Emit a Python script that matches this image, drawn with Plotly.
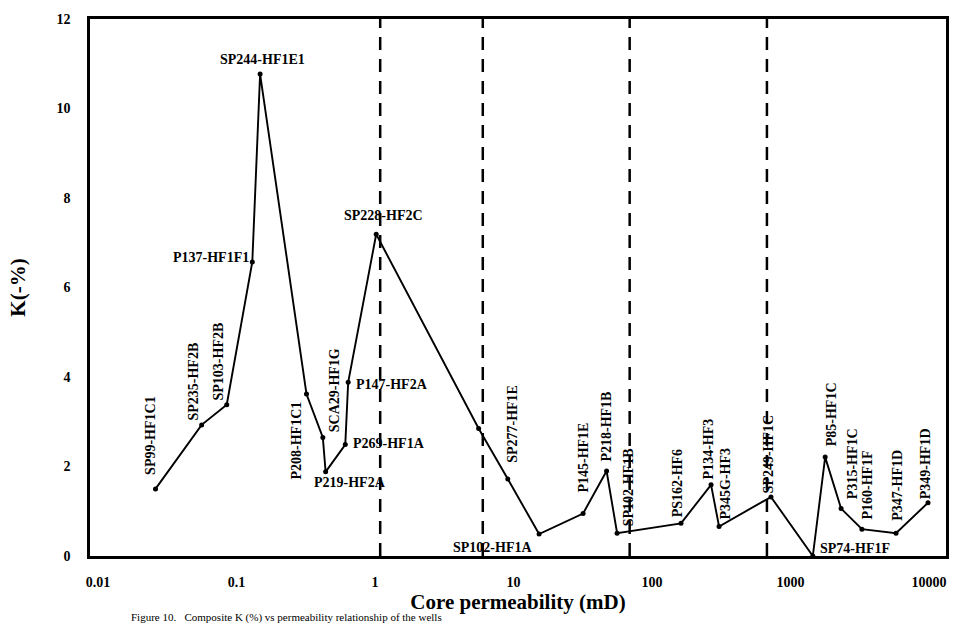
import numpy as np
import plotly.graph_objects as go

# ---- data ----
sample_names = [
    "SP99-HF1C1", "SP235-HF2B", "SP103-HF2B", "P137-HF1F1", "SP244-HF1E1",
    "P208-HF1C1", "SCA29-HF1G", "P219-HF2A", "P269-HF1A", "P147-HF2A",
    "SP228-HF2C", "", "SP277-HF1E", "SP102-HF1A", "P145-HF1E",
    "P218-HF1B", "SP102-HF1B", "PS162-HF6", "P134-HF3", "P345G-HF3",
    "SP249-HF1C", "SP74-HF1F", "P85-HF1C", "P315-HF1C", "P160-HF1F",
    "P347-HF1D", "P349-HF1D",
]
core_permeability_md = [
    0.026, 0.056, 0.085, 0.13, 0.148,
    0.32, 0.42, 0.44, 0.61, 0.64,
    1.02, 5.6, 9.1, 15.3, 31.8,
    47.0, 56.0, 162.0, 267.0, 305.0,
    723.0, 1450.0, 1780.0, 2320.0, 3280.0,
    5780.0, 9840.0,
]
k_percent = [
    1.50, 2.93, 3.38, 6.57, 10.77,
    3.62, 2.65, 1.88, 2.49, 3.88,
    7.19, 2.85, 1.72, 0.49, 0.95,
    1.90, 0.51, 0.73, 1.59, 0.66,
    1.32, 0.00, 2.21, 1.06, 0.60,
    0.51, 1.19,
]
boundary_permeability_md = [1.09, 6.0, 69.0, 676.0]
x_tick_values = [0.01, 0.1, 1, 10, 100, 1000, 10000]
x_tick_labels = ["0.01", "0.1", "1", "10", "100", "1000", "10000"]
y_tick_values = [0, 2, 4, 6, 8, 10, 12]
y_tick_labels = ["0", "2", "4", "6", "8", "10", "12"]

# ---- label placement (style only): angle, xanchor, yanchor, xshift, yshift ----
label_style = [
    (-90, "center", "bottom", -5, 13),
    (-90, "center", "bottom", -8, 3),
    (-90, "center", "bottom", -8, 3),
    (0, "right", "middle", -2, 4),
    (0, "center", "bottom", 2, 6),
    (-90, "center", "top", -10, -6),
    (-90, "center", "bottom", 12, 4),
    (0, "left", "top", -13, -2),
    (0, "left", "middle", 7, 1),
    (0, "left", "middle", 7, -2),
    (0, "center", "bottom", 7, 10),
    None,
    (-90, "center", "bottom", 4, 15),
    (0, "right", "middle", -6, -13),
    (-90, "center", "bottom", 0, 20),
    (-90, "center", "bottom", 0, 8),
    (-90, "center", "bottom", 11, 6),
    (-90, "center", "bottom", -4, 5),
    (-90, "center", "bottom", -3, 4),
    (-90, "center", "bottom", 6, 6),
    (-90, "center", "bottom", -3, 3),
    (0, "left", "middle", 6, 8),
    (-90, "center", "bottom", 6, 10),
    (-90, "center", "bottom", 11, 8),
    (-90, "center", "bottom", 6, 9),
    (-90, "center", "bottom", 2, 11),
    (-90, "center", "bottom", -3, 2),
]

SERIF = "Liberation Serif"

fig = go.Figure()

# dashed boundary lines
for xb in boundary_permeability_md:
    fig.add_trace(go.Scatter(
        x=[xb, xb], y=[0, 12], mode="lines",
        line=dict(color="black", width=2.5, dash="13px,9px"),
        hoverinfo="skip", showlegend=False,
    ))

fig.add_trace(go.Scatter(
    x=core_permeability_md, y=k_percent, mode="lines+markers",
    line=dict(color="black", width=1.9),
    marker=dict(color="black", size=5),
    text=sample_names, showlegend=False,
))

annotations = []
for name, xv, yv, st in zip(sample_names, core_permeability_md, k_percent, label_style):
    if st is None or not name:
        continue
    ang, xa, ya, xs, ys = st
    annotations.append(dict(
        x=np.log10(xv), y=yv, xref="x", yref="y", text="<b>%s</b>" % name,
        showarrow=False, textangle=ang, xanchor=xa, yanchor=ya,
        xshift=xs, yshift=ys, borderpad=0,
        font=dict(family=SERIF, size=14, color="black"),
    ))

annotations.append(dict(
    x=0.047, y=-0.1287, xref="paper", yref="paper", xanchor="left", yanchor="bottom",
    text="Figure 10.   Composite K (%) vs permeability relationship of the wells",
    showarrow=False, borderpad=0, font=dict(family=SERIF, size=11, color="black"),
))

fig.update_layout(
    width=968, height=626,
    margin=dict(l=90, r=22, t=12, b=70),
    paper_bgcolor="white", plot_bgcolor="white",
    annotations=annotations,
    showlegend=False,
)
fig.update_xaxes(
    type="log", range=[-2.058, 4.123],
    tickvals=x_tick_values, ticktext=["<b>%s</b>" % t for t in x_tick_labels],
    showline=True, linecolor="black", linewidth=2.5, mirror=True,
    showgrid=False, zeroline=False, ticks="", ticklabelstandoff=11,
    tickfont=dict(family=SERIF, size=14, color="black"),
    title=dict(text="<b>Core permeability (mD)</b>", standoff=1,
               font=dict(family=SERIF, size=21, color="black")),
)
fig.update_yaxes(
    range=[0, 12], tickvals=y_tick_values,
    ticktext=["<b>%s</b>" % t for t in y_tick_labels],
    showline=True, linecolor="black", linewidth=2.5, mirror=True,
    showgrid=False, zeroline=False, ticks="", ticklabelstandoff=14,
    tickfont=dict(family=SERIF, size=14, color="black"),
    title=dict(text="<b>K(-%)</b>", standoff=26,
               font=dict(family=SERIF, size=21, color="black")),
)

fig.write_html("out.html")
